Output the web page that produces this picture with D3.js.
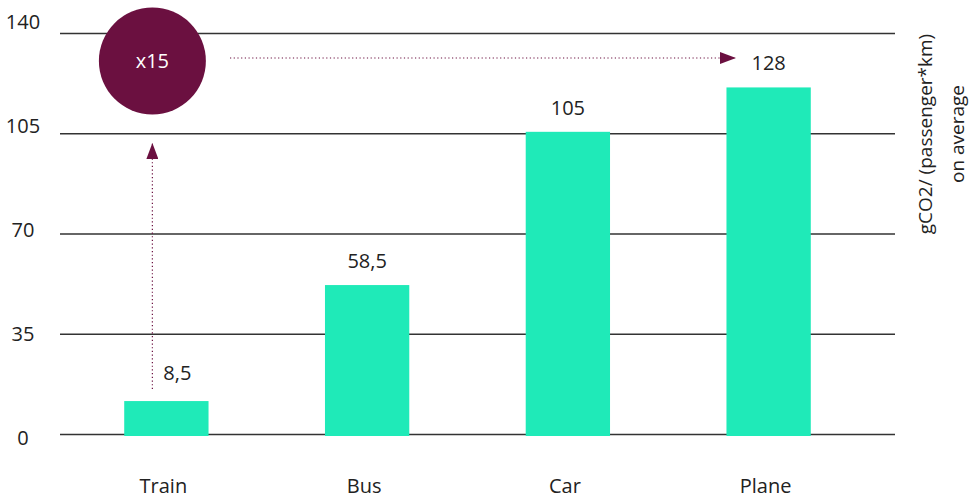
<!DOCTYPE html>
<html>
<head>
<meta charset="utf-8">
<style>
  body { margin: 0; background: #fff; }
  text { font-family: "Open Sans", sans-serif; fill: #222; }
</style>
<script src="https://cdnjs.cloudflare.com/ajax/libs/d3/7.8.5/d3.min.js"></script>
</head>
<body>
<svg width="969" height="500"></svg>
<script>
var categories = ["Train", "Bus", "Car", "Plane"];
var barValues = [11.5, 52, 105.5, 121];        // bar heights as drawn
var valueLabels = ["8,5", "58,5", "105", "128"]; // printed labels
var tickValues = [0, 35, 70, 105, 140];
var ratioLabel = "x15";
var axisTitle = ["gCO2/ (passenger*km)", "on average"];

var svg = d3.select("svg");
var wine = "#6b1040", green = "#1feab8";

var x = d3.scaleBand().domain(categories).range([66, 869]).paddingInner(0.58).paddingOuter(0.29);
var y = d3.scaleLinear().domain([0, 140]).range([434, 33]);
// tick labels sit on a slightly wider spread than the lines in the original
var yLab = d3.scaleLinear().domain([0, 140]).range([445, 29]);

// gridlines
svg.append("g").selectAll("line")
  .data(tickValues).enter().append("line")
  .attr("x1", 60).attr("x2", 895)
  .attr("y1", function(d) { return y(d) + 0.5; })
  .attr("y2", function(d) { return y(d) + 0.5; })
  .attr("stroke", "#333").attr("stroke-width", 1.3);

svg.append("g").selectAll("text")
  .data(tickValues).enter().append("text")
  .attr("x", 23).attr("y", function(d) { return yLab(d); })
  .attr("text-anchor", "middle")
  .style("font-size", "20px")
  .text(function(d) { return d; });

// bars
svg.append("g").selectAll("rect")
  .data(categories).enter().append("rect")
  .attr("x", function(d) { return x(d); })
  .attr("width", x.bandwidth())
  .attr("y", function(d, i) { return y(barValues[i]); })
  .attr("height", function(d, i) { return y(0) - y(barValues[i]) + 2; })
  .attr("fill", green);

// value labels
svg.append("g").selectAll("text")
  .data(categories).enter().append("text")
  .attr("x", function(d, i) { return x(d) + x.bandwidth() / 2 + (i == 0 ? 11 : 0); })
  .attr("y", function(d, i) { return y(barValues[i]) - (i == 0 ? 21 : 17); })
  .attr("text-anchor", "middle")
  .style("font-size", "20px")
  .text(function(d, i) { return valueLabels[i]; });

// category labels
svg.append("g").selectAll("text")
  .data(categories).enter().append("text")
  .attr("x", function(d) { return x(d) + x.bandwidth() / 2 - 3; })
  .attr("y", 493)
  .attr("text-anchor", "middle")
  .style("font-size", "20px")
  .text(function(d) { return d; });

// annotation: circle + dotted arrows
var cx = x("Train") + x.bandwidth() / 2 - 14, cy = 61;
var defs = svg.append("defs");
defs.append("marker").attr("id", "tri")
  .attr("viewBox", "0 0 16 12").attr("refX", 16).attr("refY", 6)
  .attr("markerWidth", 16).attr("markerHeight", 12)
  .attr("markerUnits", "userSpaceOnUse").attr("orient", "auto")
  .append("path").attr("d", "M0,0 L16,6 L0,12 Z").attr("fill", wine);

svg.append("line")
  .attr("x1", cx).attr("y1", y(barValues[0]) - 12)
  .attr("x2", cx).attr("y2", 143)
  .attr("stroke", wine).attr("stroke-width", 1.2)
  .attr("stroke-dasharray", "1.2,2.5")
  .attr("marker-end", "url(#tri)");

svg.append("line")
  .attr("x1", 230).attr("y1", 58)
  .attr("x2", 736).attr("y2", 58)
  .attr("stroke", wine).attr("stroke-width", 1.2)
  .attr("stroke-dasharray", "1.2,2.5")
  .attr("marker-end", "url(#tri)");

svg.append("circle").attr("cx", cx).attr("cy", cy).attr("r", 53.5).attr("fill", wine);
svg.append("text").attr("x", cx).attr("y", cy + 7)
  .attr("text-anchor", "middle").style("font-size", "20px").style("fill", "#fff")
  .text(ratioLabel);

// right axis title
var t = svg.append("text")
  .attr("transform", "translate(925,134) rotate(-90)")
  .attr("text-anchor", "middle")
  .style("font-size", "19px");
t.selectAll("tspan").data(axisTitle).enter().append("tspan")
  .attr("x", 0).attr("dy", function(d, i) { return i == 0 ? 7 : 32; })
  .text(function(d) { return d; });
</script>
</body>
</html>
